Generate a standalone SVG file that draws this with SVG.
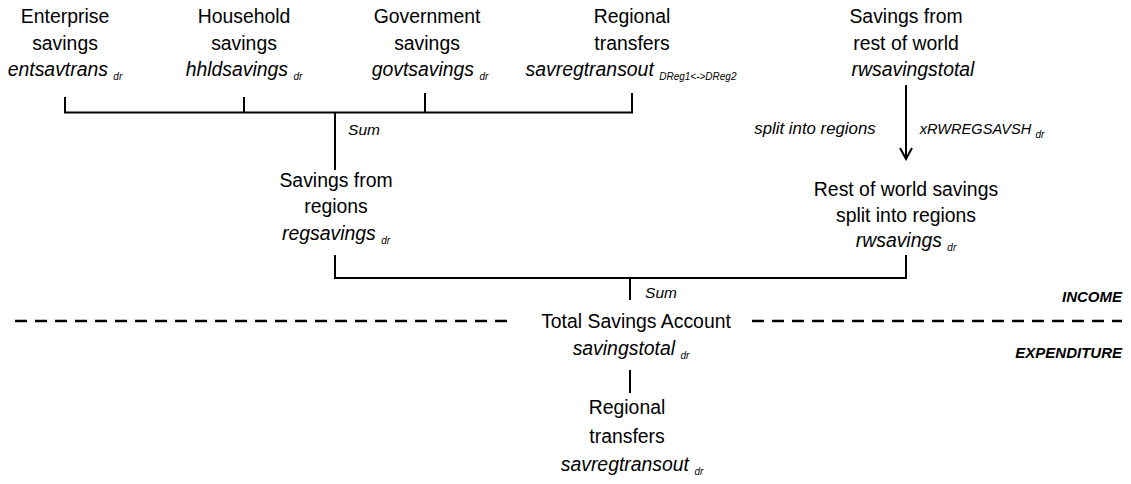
<svg xmlns="http://www.w3.org/2000/svg" width="1131" height="484" viewBox="0 0 1131 484">
<style>
text{font-family:"Liberation Sans",Arial,sans-serif;font-size:19.4px;fill:#000;text-anchor:middle}
.i{font-style:italic}
.sub{font-size:10px;font-style:italic}
.lbl{font-size:15.5px;font-style:italic}
.lbl2{font-size:16.8px;font-style:italic}
.lbl3{font-size:14.6px;font-style:italic}
.hd{font-size:15px;font-style:italic;font-weight:bold;text-anchor:end}
.ln{stroke:#000;stroke-width:2;fill:none}
.dash{stroke:#000;stroke-width:2.5;fill:none;stroke-dasharray:12 8}
</style>
<defs>
<marker id="arr" markerWidth="14" markerHeight="14" refX="12" refY="7" orient="auto" markerUnits="userSpaceOnUse">
<path d="M1,1 L12,7 L1,13" fill="none" stroke="#000" stroke-width="2"/>
</marker>
</defs>
<g id="connectors">
<path class="ln" d="M65,97 V112.5 H632 V93"/>
<path class="ln" d="M244,97 V112.5"/>
<path class="ln" d="M425,93 V112.5"/>
<path class="ln" d="M335,112.5 V170"/>
<path class="ln" d="M906,85 V159" marker-end="url(#arr)"/>
<path class="ln" d="M335,255 V278 H906 V255"/>
<path class="ln" d="M630,278 V300"/>
<path class="ln" d="M630,370 V393"/>
<path class="dash" d="M15,321 H515"/>
<path class="dash" d="M752,321 H1122"/>
</g>
<g id="ent">
<text x="65" y="23">Enterprise</text>
<text x="65" y="49.5">savings</text>
<text x="65" y="76" class="i">entsavtrans <tspan class="sub" dy="4">dr</tspan></text>
</g>
<g id="hhld">
<text x="244" y="23">Household</text>
<text x="244" y="49.5">savings</text>
<text x="244" y="76" class="i">hhldsavings <tspan class="sub" dy="4">dr</tspan></text>
</g>
<g id="govt">
<text x="427" y="23">Government</text>
<text x="427" y="49.5">savings</text>
<text x="430" y="76" class="i">govtsavings <tspan class="sub" dy="4">dr</tspan></text>
</g>
<g id="regtr">
<text x="632" y="23">Regional</text>
<text x="632" y="49.5">transfers</text>
<text x="631" y="76" class="i">savregtransout <tspan class="sub" dy="4">DReg1&lt;-&gt;DReg2</tspan></text>
</g>
<g id="rwtotal">
<text x="906" y="23">Savings from</text>
<text x="906" y="49.5">rest of world</text>
<text x="913" y="76" class="i">rwsavingstotal</text>
</g>
<g id="regsav">
<text x="336" y="187">Savings from</text>
<text x="336" y="213">regions</text>
<text x="336" y="240" class="i">regsavings <tspan class="sub" dy="4">dr</tspan></text>
</g>
<g id="rwsav">
<text x="906" y="196">Rest of world savings</text>
<text x="906" y="222">split into regions</text>
<text x="906" y="247" class="i">rwsavings <tspan class="sub" dy="4">dr</tspan></text>
</g>
<g id="total">
<text x="636" y="328">Total Savings Account</text>
<text x="631" y="355" class="i">savingstotal <tspan class="sub" dy="4">dr</tspan></text>
</g>
<g id="regout">
<text x="627" y="414">Regional</text>
<text x="627" y="443">transfers</text>
<text x="632" y="471" class="i">savregtransout <tspan class="sub" dy="4">dr</tspan></text>
</g>
<g id="labels">
<text x="364" y="135" class="lbl">Sum</text>
<text x="661" y="298" class="lbl">Sum</text>
<text x="815" y="134" class="lbl2">split into regions</text>
<text x="982" y="134" class="lbl3">xRWREGSAVSH <tspan class="sub" dy="4">dr</tspan></text>
<text x="1122" y="302" class="hd">INCOME</text>
<text x="1122" y="358" class="hd">EXPENDITURE</text>
</g>
</svg>
